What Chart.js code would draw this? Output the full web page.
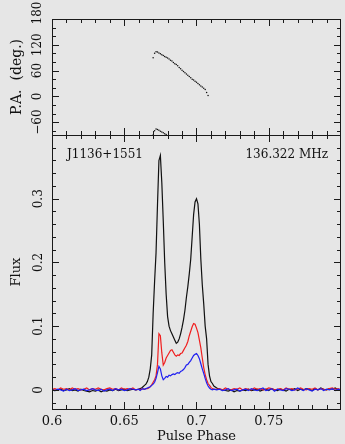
<!DOCTYPE html>
<html>
<head>
<meta charset="utf-8">
<script src="https://cdn.jsdelivr.net/npm/chart.js@4.4.0/dist/chart.umd.min.js"></script>
<style>
html, body { margin: 0; padding: 0; background: #e6e6e6; }
#wrap { position: relative; width: 345px; height: 444px; }
#wrap canvas { position: absolute; left: 0; top: 0; }
</style>
</head>
<body>
<div id="wrap">
  <canvas id="pa" width="345" height="444"></canvas>
  <canvas id="prof" width="345" height="444"></canvas>
</div>
<script>
// pulse phase of each profile bin
var phase = [
  0.600,0.602,0.604,0.606,0.608,0.610,0.612,0.614,0.616,0.618,
  0.620,0.622,0.624,0.626,0.628,0.630,0.632,0.634,0.636,0.638,
  0.640,0.642,0.644,0.646,0.648,0.650,0.652,0.654,0.656,0.658,
  0.660,0.661,0.662,0.663,0.664,0.665,0.666,0.667,0.668,0.669,
  0.670,0.671,0.672,0.673,0.674,0.675,0.676,0.677,0.678,0.679,
  0.680,0.681,0.682,0.683,0.684,0.685,0.686,0.687,0.688,0.689,
  0.690,0.691,0.692,0.693,0.694,0.695,0.696,0.697,0.698,0.699,
  0.700,0.701,0.702,0.703,0.704,0.705,0.706,0.707,0.708,0.709,
  0.710,0.711,0.712,
  0.714,0.716,0.718,0.720,0.722,0.724,0.726,0.728,0.730,0.732,
  0.734,0.736,0.738,0.740,0.742,0.744,0.746,0.748,0.750,0.752,
  0.754,0.756,0.758,0.760,0.762,0.764,0.766,0.768,0.770,0.772,
  0.774,0.776,0.778,0.780,0.782,0.784,0.786,0.788,0.790,0.792,
  0.794,0.796,0.798,0.800
];

// total intensity (black)
var fluxI = [
  0.001,-0.001,0.000,0.001,-0.001,0.000,0.002,-0.001,0.000,-0.002,
  0.001,-0.001,-0.002,-0.003,-0.001,-0.002,0.000,-0.003,-0.001,-0.002,
  0.000,-0.001,0.001,-0.001,0.000,0.001,-0.001,0.000,0.001,0.000,
  0.001,0.002,0.003,0.005,0.007,0.009,0.013,0.020,0.033,0.055,
  0.120,0.170,0.215,0.290,0.360,0.368,0.325,0.265,0.200,0.150,
  0.115,0.100,0.093,0.088,0.083,0.078,0.073,0.075,0.080,0.088,
  0.098,0.110,0.125,0.145,0.162,0.182,0.205,0.240,0.275,0.295,
  0.300,0.292,0.260,0.205,0.165,0.135,0.100,0.080,0.040,0.022,
  0.013,0.010,0.006,
  0.003,0.001,0.000,-0.001,-0.002,0.000,-0.003,-0.001,-0.002,0.000,
  -0.001,0.001,-0.001,0.000,0.001,-0.002,0.000,0.001,-0.001,0.002,
  0.000,-0.001,0.001,0.000,-0.002,0.001,0.000,0.002,-0.001,0.001,
  0.000,0.002,0.001,-0.001,0.002,0.000,0.003,0.001,0.000,0.002,
  0.001,0.003,0.000,0.001
];

// linear polarisation (red)
var fluxL = [
  0.001,0.002,0.000,0.003,0.001,0.002,0.000,0.003,0.001,0.002,
  0.000,0.001,0.003,0.000,0.002,0.001,0.003,0.001,0.000,0.002,
  0.003,0.001,0.002,0.000,0.003,0.001,0.002,0.001,0.003,0.000,
  0.001,0.000,0.002,0.001,0.001,0.002,0.002,0.003,0.005,0.008,
  0.012,0.016,0.022,0.040,0.088,0.085,0.058,0.039,0.043,0.050,
  0.054,0.058,0.062,0.063,0.059,0.055,0.053,0.055,0.054,0.057,
  0.058,0.062,0.066,0.070,0.076,0.085,0.092,0.099,0.104,0.103,
  0.097,0.090,0.078,0.066,0.050,0.035,0.024,0.016,0.010,0.007,
  0.004,0.002,0.001,
  0.001,0.002,0.000,0.003,0.001,0.000,0.002,0.001,0.003,0.000,
  0.002,0.001,0.000,0.003,0.001,0.002,0.000,0.001,0.003,0.002,
  0.000,0.001,0.002,0.000,0.003,0.001,0.002,0.000,0.001,0.003,
  0.001,0.000,0.002,0.001,0.003,0.000,0.002,0.001,0.000,0.002,
  0.003,0.001,0.002,0.000
];

// circular polarisation (blue)
var fluxV = [
  0.000,-0.001,0.001,0.000,-0.002,0.001,-0.001,0.000,0.002,-0.001,
  0.000,0.001,-0.001,0.000,0.002,0.000,-0.001,0.001,-0.002,0.000,
  0.001,-0.001,0.002,0.000,0.001,-0.001,0.000,0.002,0.001,0.000,
  0.001,-0.001,0.001,0.002,0.001,0.002,0.003,0.004,0.005,0.007,
  0.009,0.012,0.018,0.027,0.037,0.033,0.022,0.016,0.018,0.021,
  0.020,0.023,0.022,0.024,0.025,0.024,0.026,0.027,0.026,0.029,
  0.030,0.032,0.035,0.039,0.040,0.043,0.046,0.050,0.054,0.056,
  0.057,0.054,0.049,0.041,0.033,0.026,0.018,0.011,0.006,0.003,
  0.001,0.000,0.001,
  0.000,0.001,-0.001,0.000,0.002,-0.001,0.000,0.001,-0.002,0.000,
  0.001,-0.001,0.002,0.000,-0.001,0.001,0.003,-0.001,0.000,0.002,
  -0.002,0.001,0.000,-0.001,0.002,0.001,-0.001,0.000,0.003,0.001,
  -0.001,0.002,0.000,-0.002,0.001,0.000,0.002,-0.001,0.001,0.000,
  0.002,-0.001,0.001,0.000
];

// position angle
var paPhase = [
  0.670,0.671,0.672,0.673,0.674,0.675,0.676,0.677,0.678,0.679,
  0.680,0.681,0.682,0.683,0.684,0.685,0.686,0.687,0.688,0.689,
  0.690,0.691,0.692,0.693,0.694,0.695,0.696,0.697,0.698,0.699,
  0.700,0.701,0.702,0.703,0.704,0.705,0.706,0.707,0.708
];
var paDeg = [
  90,100,104,103,101,99,97,95,93,91,
  89,87,84,82,79,76,74,71,67,64,
  61,58,55,52,49,46,43,40,38,35,
  33,30,27,24,22,19,16,9,2
];
// same points repeated 180 deg lower
var paWrapPhase = [0.670,0.671,0.672,0.673,0.674,0.675,0.676,0.677,0.678,0.679];
var paWrapDeg = [-90,-80,-76,-77,-79,-81,-83,-85,-87,-89];

// axis ticks
var xMajor = [0.6, 0.65, 0.7, 0.75];
var xLabels = ['0.6', '0.65', '0.7', '0.75'];
var xMinor = [0.61,0.62,0.63,0.64,0.66,0.67,0.68,0.69,0.71,0.72,0.73,0.74,0.76,0.77,0.78,0.79];
var paMajor = [-60, 0, 60, 120, 180];
var paLabels = ['\u221260', '0', '60', '120', '180'];
var paMinor = [-80,-40,-20,20,40,80,100,140,160];
var fluxMajor = [0, 0.1, 0.2, 0.3];
var fluxLabels = ['0', '0.1', '0.2', '0.3'];
var fluxMinor = [-0.02,0.02,0.04,0.06,0.08,0.12,0.14,0.16,0.18,0.22,0.24,0.26,0.28,0.32,0.34,0.36,0.38];

function pts(xs, ys) {
  return xs.map(function(v, i) { return {x: v, y: ys[i]}; });
}

var FONT = '"DejaVu Serif", serif';
var INK = '#111';

// frame with inward ticks and pgplot-ish labels
var framePlugin = {
  id: 'frame',
  afterDraw: function(chart, args, o) {
    var ctx = chart.ctx, a = chart.chartArea;
    var sx = chart.scales.x, sy = chart.scales.y;
    ctx.save();
    ctx.strokeStyle = '#1a1a1a';
    ctx.lineWidth = 1;
    ctx.strokeRect(a.left + 0.5, a.top + 0.5, a.right - a.left - 1, a.bottom - a.top);
    ctx.beginPath();
    function xt(v, len) {
      var p = Math.round(sx.getPixelForValue(v)) + 0.5;
      ctx.moveTo(p, a.bottom); ctx.lineTo(p, a.bottom - len);
      ctx.moveTo(p, a.top); ctx.lineTo(p, a.top + len);
    }
    function yt(v, len) {
      var p = Math.round(sy.getPixelForValue(v)) + 0.5;
      ctx.moveTo(a.left, p); ctx.lineTo(a.left + len, p);
      ctx.moveTo(a.right, p); ctx.lineTo(a.right - len, p);
    }
    o.xMajor.forEach(function(v) { xt(v, 7); });
    o.xMinor.forEach(function(v) { xt(v, 4); });
    o.yMajor.forEach(function(v) { yt(v, 7); });
    o.yMinor.forEach(function(v) { yt(v, 4); });
    ctx.stroke();

    ctx.fillStyle = INK;
    ctx.textAlign = 'center';
    ctx.textBaseline = 'middle';
    ctx.font = '12px ' + FONT;
    o.yMajor.forEach(function(v, i) {
      var py = sy.getPixelForValue(v);
      // keep the top label from running past the frame, as pgplot does
      if (py - a.top < 4) py -= 6;
      ctx.save();
      ctx.translate(o.yLabelX, py);
      ctx.rotate(-Math.PI / 2);
      ctx.fillText(o.yLabels[i], 0, 0);
      ctx.restore();
    });
    if (o.xLabels) {
      ctx.font = '13px ' + FONT;
      o.xMajor.forEach(function(v, i) {
        ctx.fillText(o.xLabels[i], sx.getPixelForValue(v), 422);
      });
      ctx.fillText(o.xTitle, (a.left + a.right) / 2, 437);
    }
    ctx.font = o.yTitleFont + ' ' + FONT;
    ctx.save();
    ctx.translate(17, (a.top + a.bottom) / 2);
    ctx.rotate(-Math.PI / 2);
    ctx.fillText(o.yTitle, 0, 0);
    ctx.restore();

    ctx.font = '12px ' + FONT;
    (o.notes || []).forEach(function(n) {
      ctx.textAlign = n.align;
      ctx.fillText(n.text, n.x, n.y);
    });
    ctx.restore();
  }
};

Chart.defaults.animation = false;
Chart.defaults.plugins.legend.display = false;
Chart.defaults.plugins.tooltip.enabled = false;

// upper panel: position angle
new Chart(document.getElementById('pa'), {
  type: 'scatter',
  data: {
    datasets: [
      { data: pts(paPhase, paDeg), pointRadius: 0.75, pointBorderWidth: 0, pointBackgroundColor: '#111' },
      { data: pts(paWrapPhase, paWrapDeg), pointRadius: 0.75, pointBorderWidth: 0, pointBackgroundColor: '#111' }
    ]
  },
  options: {
    responsive: false,
    layout: { padding: { left: 52, right: 4, top: 19, bottom: 309 } },
    scales: {
      x: { type: 'linear', display: false, min: 0.6, max: 0.8 },
      y: { type: 'linear', display: false, min: -90, max: 180 }
    },
    plugins: {
      frame: {
        xMajor: xMajor, xMinor: xMinor, yMajor: paMajor, yMinor: paMinor,
        yLabels: paLabels, yLabelX: 38, yTitle: 'P.A.  (deg.)', yTitleFont: '14px'
      }
    }
  },
  plugins: [framePlugin]
});

// lower panel: flux profiles
new Chart(document.getElementById('prof'), {
  type: 'line',
  data: {
    datasets: [
      { data: pts(phase, fluxV), borderColor: '#1f1ff0', borderWidth: 1.2, order: 0 },
      { data: pts(phase, fluxL), borderColor: '#f01f1f', borderWidth: 1.2, order: 1 },
      { data: pts(phase, fluxI), borderColor: '#111', borderWidth: 1.2, order: 2 }
    ]
  },
  options: {
    responsive: false,
    elements: { point: { radius: 0 }, line: { tension: 0 } },
    layout: { padding: { left: 52, right: 4, top: 135, bottom: 35 } },
    scales: {
      x: { type: 'linear', display: false, min: 0.6, max: 0.8 },
      y: { type: 'linear', display: false, min: -0.03, max: 0.4 }
    },
    plugins: {
      frame: {
        xMajor: xMajor, xMinor: xMinor, yMajor: fluxMajor, yMinor: fluxMinor,
        yLabels: fluxLabels, yLabelX: 39, yTitle: 'Flux', yTitleFont: '13px',
        xLabels: xLabels, xTitle: 'Pulse Phase',
        notes: [
          { text: 'J1136+1551', x: 67, y: 155, align: 'left' },
          { text: '136.322 MHz', x: 328, y: 155, align: 'right' }
        ]
      }
    }
  },
  plugins: [framePlugin]
});
</script>
</body>
</html>
